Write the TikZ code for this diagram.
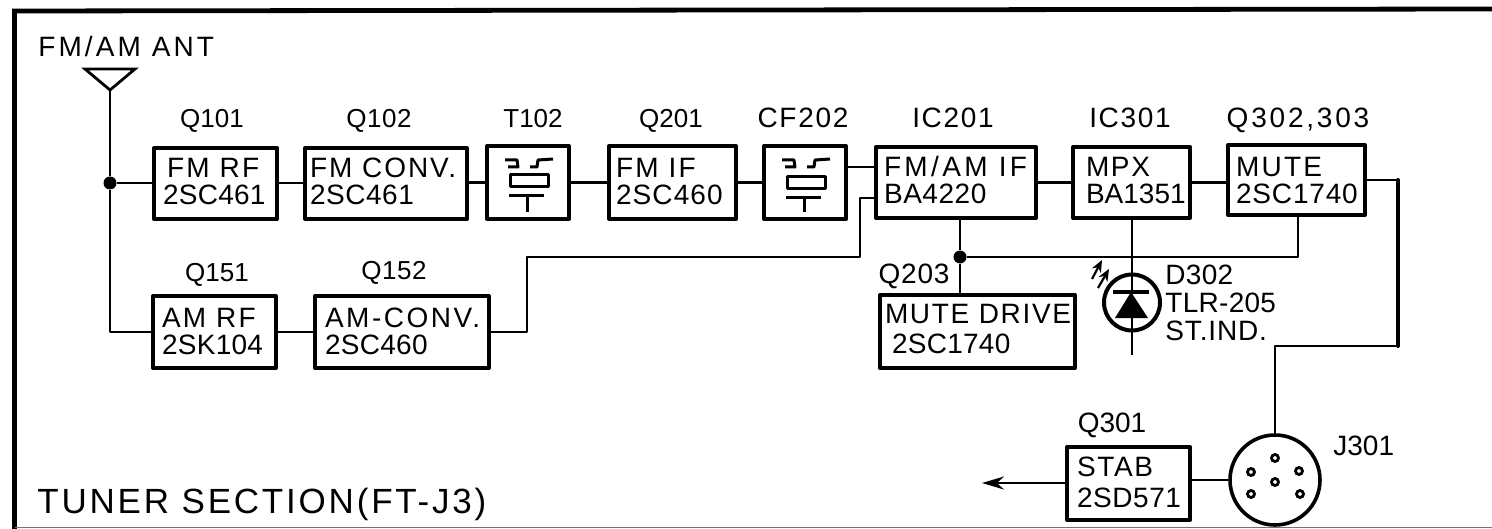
\documentclass[tikz,border=0pt]{standalone}
\usepackage{fontspec}
\setmainfont{Liberation Sans}
\usetikzlibrary{arrows.meta,calc}
\newcommand\ls[2]{{\addfontfeatures{LetterSpace=#1}#2}}
\def\lgap{27}
\tikzset{
  blockbox/.style={draw=black,line width=2pt,inner sep=0pt,outer sep=0pt,fill=white,font=\fontsize{14}{16}\selectfont,line join=round},
  wire/.style={draw=black,line width=1.2pt,line join=round},
  dot/.style={circle,fill=black,draw=none,inner sep=0pt,minimum size=6.5pt},
  lbl/.style={anchor=base,inner sep=0pt,font=\fontsize{13}{15}\selectfont},
  lblb/.style={anchor=base,inner sep=0pt,font=\fontsize{14}{16}\selectfont},
  lblw/.style={anchor=base west,inner sep=0pt,font=\fontsize{14}{16}\selectfont},
  sym/.style={draw=black,line width=1.5pt,line join=round},
}
\newcommand\blk[9]{%
  \pgfmathsetlengthmacro\bw{(#4-#2)*0.5}%
  \pgfmathsetlengthmacro\bh{(#5-#3)*0.5}%
  \pgfmathsetlengthmacro\bp{#6*0.5}%
  \pgfmathsetlengthmacro\bb{#7*0.5}%
  \pgfmathsetlengthmacro\bs{\lgap*0.5}%
  \node[blockbox] (#1) at ({(#2+#4)/2},{(#3+#5)/2}) {%
    \begin{minipage}[c][\bh][t]{\bw}\lineskiplimit=-100pt \baselineskip=\bs \parindent=0pt
    \hspace*{\bp}\rule{0pt}{\bb}#8\par
    \hspace*{\bp}#9\par\vfill
    \end{minipage}};%
}
\newcommand\filt[2]{%
  \draw[sym] (#1-23,160) -- (#1-11,160) -- (#1-10,167) -- (#1-20,167);
  \draw[sym] (#1+25,159) -- (#1+10,160) -- (#1+9,167) -- (#1+2,167);
  \draw[sym] (#1-18,175+#2) rectangle (#1+20,187+#2);
  \draw[sym] (#1-19,196+#2) -- (#1+16,196+#2);
  \draw[sym] (#1-1,196+#2) -- (#1-1,212);
}
\begin{document}
\begin{tikzpicture}[x=0.5pt,y=-0.5pt]
\useasboundingbox (0,0) rectangle (1492,529);
% frame
\draw[line width=2.4pt,line cap=butt,line join=miter] (1492,9) -- (14.5,11) -- (14.5,529);
\draw[line width=0.6pt,draw=black!55] (15,527.5) -- (1492,527.5);
% blocks
\blk{fmrf}{154}{148}{277}{219}{9}{30}{\hspace*{2pt}\ls{8}{FM RF}}{\ls{1}{2SC461}}
\blk{fmconv}{305}{148}{467}{219}{5}{30}{\ls{7}{FM CONV.}}{\ls{2}{2SC461}}
\node[blockbox,minimum width=41pt,minimum height=36.5pt] (tb) at (528,182.5) {};
\blk{fmif}{609}{146}{736}{219}{7}{32}{\ls{8}{FM IF}}{\ls{4}{2SC460}}
\node[blockbox,minimum width=41pt,minimum height=36.5pt] (cf) at (805,182.5) {};
\blk{fmamif}{876}{147}{1036}{218}{8}{30}{\ls{12}{FM/AM IF}}{\ls{2}{BA4220}}
\blk{mpx}{1073}{147}{1190}{218}{13}{30}{\ls{6}{MPX}}{BA1351}
\blk{mute}{1228}{145}{1365}{215}{8}{32}{\ls{8}{MUTE}}{\ls{3}{2SC1740}}
\blk{amrf}{153}{296}{276}{368}{9}{31}{\ls{8}{AM RF}}{\ls{1}{2SK104}}
\blk{amconv}{315}{296}{489}{368}{10}{31}{\ls{9}{AM-CONV.}}{\ls{1}{2SC460}}
\def\lgap{30}
\blk{mdrv}{880}{295}{1075}{368}{5}{28}{\ls{6}{MUTE DRIVE}}{\hspace*{3.5pt}\ls{1}{2SC1740}}
\def\lgap{31}
\blk{stab}{1067}{447}{1190}{520}{10}{29}{\ls{6}{STAB}}{\ls{2}{2SD571}}
% filter symbols
\filt{528}{0}
\filt{805}{2}
% labels
\node[lblw] (antl) at (38,57) {\ls{11}{FM/AM ANT}};
\node[lbl] (l1) at (212,128) {Q101};
\node[lbl] (l2) at (379,128) {\ls{2}{Q102}};
\node[lbl] (l3) at (533,128) {T102};
\node[lbl] (l4) at (671,128) {Q201};
\node[lblb] (l5) at (803,128) {\ls{6}{CF202}};
\node[lblb] (l6) at (953,128) {\ls{6}{IC201}};
\node[lblb] (l7) at (1130,128) {\ls{6}{IC301}};
\node[lblb] (l8) at (1298,128) {\ls{10}{Q302,303}};
\node[lbl] (l9) at (217,281) {Q151};
\node[lbl] (l10) at (394,279) {\ls{2}{Q152}};
\node[lblb] (l11) at (914,283) {\ls{3}{Q203}};
\node[lblw] (l12) at (1165,284) {\ls{1}{D302}};
\node[lblw] (l13) at (1165,312) {\ls{1}{TLR-205}};
\node[lblw] (l14) at (1165,340) {\ls{3}{ST.IND.}};
\node[lblb] (l15) at (1112,432) {Q301};
\node[lblw] (l16) at (1333,455) {J301};
\node[anchor=base west,inner sep=0pt,font=\fontsize{17.5}{20}\selectfont] (title) at (37,513) {\ls{8}{TUNER SECTION(FT-J3)}};
% antenna
\coordinate (anta) at (110,90);
\coordinate (antl1) at (85,69);
\coordinate (antr) at (135,69);
\draw[line width=1.4pt,line join=miter] (antl1) -- (antr) -- (anta) -- cycle;
\node[dot] (j1) at (110,183) {};
\coordinate (amc) at (110,332);
\draw[wire] (anta) -- (j1) -- (amc) -- (amrf.west |- amc);
\draw[wire] (j1) -- (j1 -| fmrf.west);
% chain
\draw[wire] (fmrf.east |- j1) -- (fmconv.west |- j1);
\draw[wire] (fmconv.east |- tb) -- (tb.west);
\draw[wire] (tb.east) -- (fmif.west |- tb);
\draw[wire] (fmif.east |- cf) -- (cf.west);
\coordinate (ifa) at (860,167);
\draw[wire] (cf.east |- ifa) -- (fmamif.west |- ifa);
\coordinate (ifb) at (860,198);
\coordinate (ifc) at (860,257);
\coordinate (amd) at (527,257);
\coordinate (ame) at (527,332);
\draw[wire] (fmamif.west |- ifb) -- (ifb) -- (ifc) -- (amd) -- (ame) -- (amconv.east |- ame);
\draw[wire] (amrf.east |- ame) -- (amconv.west |- ame);
\draw[wire] (fmamif.east |- mpx) -- (mpx.west);
\draw[wire] (mpx.east) -- (mute.west |- mpx);
% bus
\node[dot] (j2) at (960,257) {};
\coordinate (bus) at (1298,257);
\draw[wire] (j2 |- fmamif.south) -- (j2) -- (j2 |- mdrv.north);
\draw[wire] (j2) -- (bus) -- (bus |- mute.south);
% LED
\node[circle,draw=black,line width=2pt,minimum size=28pt,inner sep=0pt] (led) at (1132,302.5) {};
\coordinate (ledend) at (1132,355);
\draw[wire] (1132,218) -- (ledend);
\coordinate (dtop) at (1131,292);
\fill (1115,318) -- (1148,318) -- (dtop) -- cycle;
\draw[line width=2.4pt] (1113,292) -- (1149,292);
\draw[line width=1.1pt,-{Stealth[length=6pt,width=5pt]}] (1092,279) -- (1102,260);
\draw[line width=1.1pt,-{Stealth[length=6pt,width=5pt]}] (1098,288) -- (1109,269);
% output to jack
\node[circle,draw=black,line width=1.8pt,minimum size=45pt,inner sep=0pt] (j301) at (1275,480) {};
\coordinate (o1) at (1398,180);
\coordinate (o2) at (1398,346);
\coordinate (o3) at (1275,346);
\draw[wire] (mute.east |- o1) -- (o1);
\draw[wire,line width=2pt,line cap=round] (o1) -- (o2);
\draw[wire] (o2) -- (o3) -- (j301.north);
\draw[wire] (stab.east |- j301) -- (j301.west);
\foreach \px/\py in {1275/458,1251/472,1299/471,1275/482,1251/494,1300/494}
  \draw[line width=1.4pt] (\px,\py) circle (3.5);
\coordinate (arr) at (982,483);
\draw[wire,-{Stealth[length=11pt,width=6.5pt]}] (stab.west |- arr) -- (arr);
\end{tikzpicture}
\end{document}
